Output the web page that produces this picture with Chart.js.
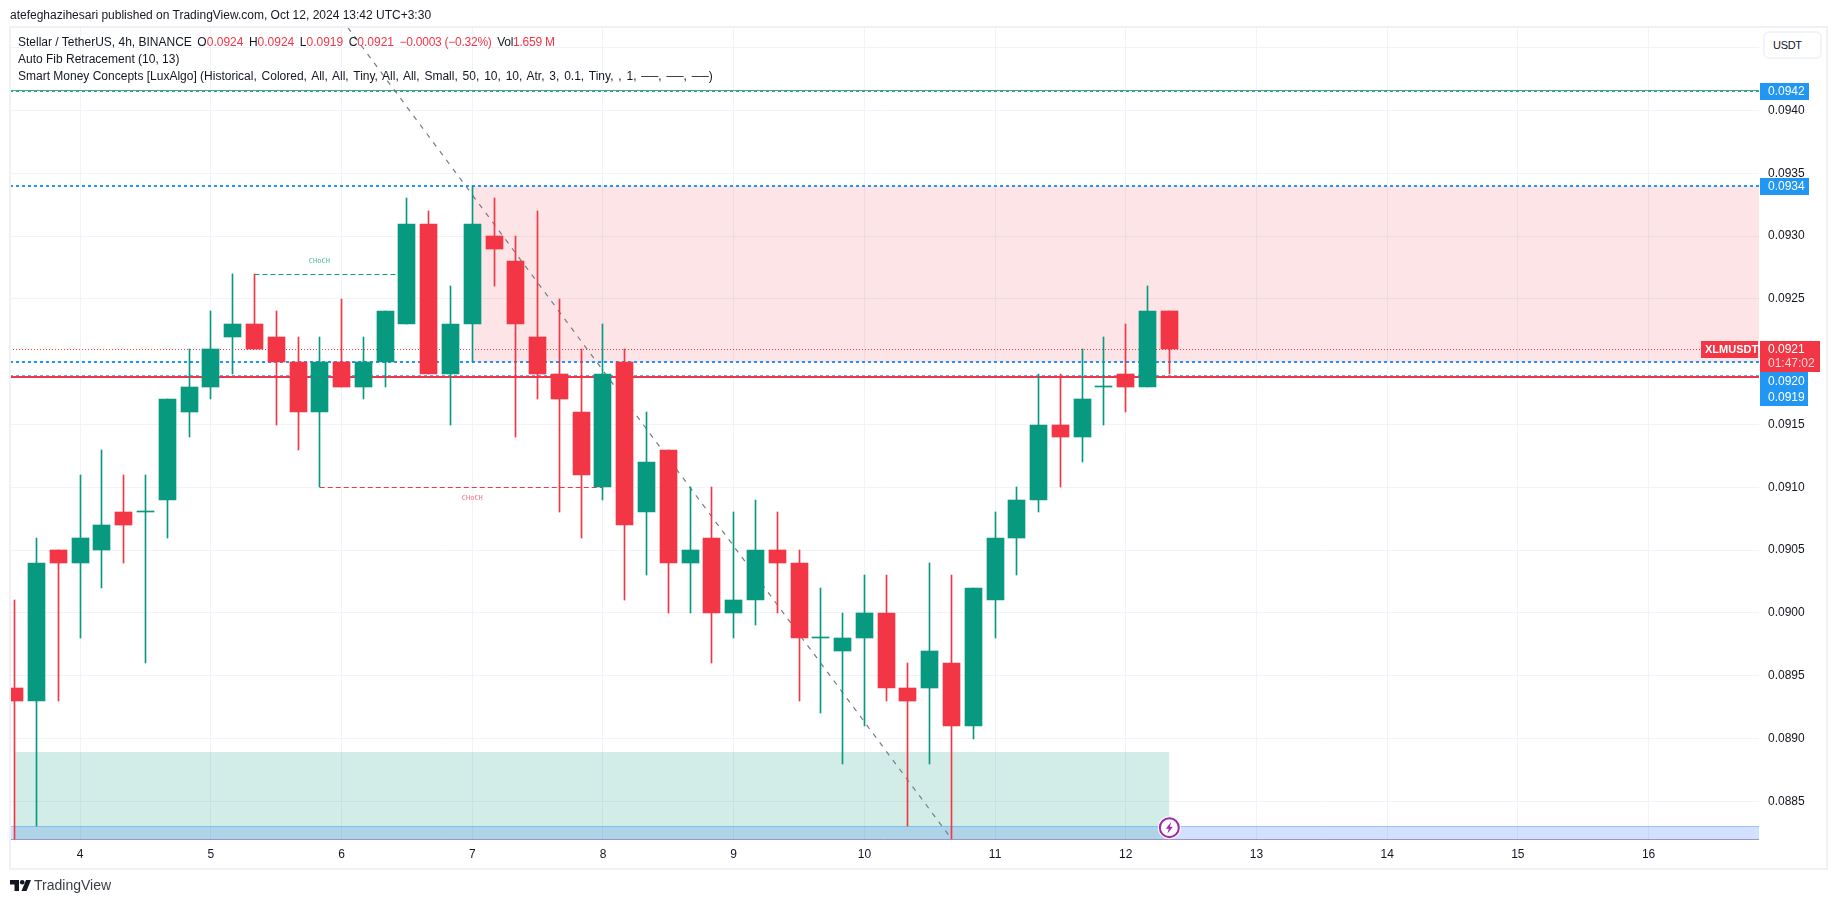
<!DOCTYPE html>
<html lang="en">
<head>
<meta charset="UTF-8">
<title>XLMUSDT 4h</title>
<script src="https://cdn.jsdelivr.net/npm/chart.js"></script>
<style>
  html, body { margin: 0; padding: 0; background: #fff; width: 1835px; height: 903px; overflow: hidden; }
  body { font-family: "Liberation Sans", Arial, sans-serif; color: #131722; position: relative; }
  canvas { position: absolute; left: 0; top: 0; }
  .frame { position: absolute; left: 9px; top: 26px; width: 1815px; height: 840px; border: 2px solid #f0f1f4; pointer-events: none; }
  .txt { position: absolute; white-space: pre; font-size: 12px; line-height: 16px; }
  .up { color: #f23645; }
  .gap { margin-left: 5.5px; }
  .tight { letter-spacing: -0.25px; }
  .usdt { position: absolute; left: 1763px; top: 31px; height: 24px; border: 2px solid #f0f3fa; border-radius: 6px; background: #fff;
          font-size: 11px; letter-spacing: -0.3px; line-height: 24px; padding-left: 8px; width: 47px; }
  .brand { position: absolute; left: 34px; top: 877px; font-size: 14px; line-height: 16px; color: #3a3d45; }
  .logo { position: absolute; left: 10px; top: 880px; }
</style>
</head>
<body>
<canvas id="chart" width="1835" height="903"></canvas>
<div class="frame"></div>
<div class="txt" style="left:10px;top:7px">atefeghazihesari published on TradingView.com, Oct 12, 2024 13:42 UTC+3:30</div>
<div class="txt" style="left:18px;top:34px">Stellar / TetherUS, 4h, BINANCE<span class="gap">O</span><span class="up">0.0924</span><span class="gap">H</span><span class="up">0.0924</span><span class="gap">L</span><span class="up">0.0919</span><span class="gap">C</span><span class="up">0.0921</span><span class="up gap tight">−0.0003 (−0.32%)</span><span class="gap tight">Vol</span><span class="up tight">1.659 M</span></div>
<div class="txt" style="left:18px;top:51px">Auto Fib Retracement (10, 13)</div>
<div class="txt" style="left:18px;top:68px">Smart Money Concepts [LuxAlgo] <span style="word-spacing:1.5px">(Historical, Colored, All, All, Tiny, All, All, Small, 50, 10, 10, Atr, 3, 0.1, Tiny, , 1, ──, ──, ──)</span></div>
<div class="usdt">USDT</div>
<svg class="logo" width="21" height="11" viewBox="0 0 21 11"><path d="M0 0h9v11H4.5V4.5H0z" fill="#131722"/><circle cx="12.2" cy="2.3" r="2.3" fill="#131722"/><path d="M16 0h5l-4.5 11h-5z" fill="#131722"/></svg>
<div class="brand">TradingView</div>

<script>
// day-of-month position of the first candle, one candle is 4 hours
const firstCandleDay = 3.5;
const candleStep = 1 / 6;

const opens = [0.0894, 0.0893, 0.0905, 0.0904, 0.0905, 0.0908, 0.0908, 0.0909, 0.0916, 0.0918,
  0.0922, 0.0923, 0.0922, 0.0920, 0.0916, 0.0920, 0.0918, 0.0920, 0.0923, 0.0931,
  0.0919, 0.0923, 0.0930, 0.0928, 0.0922, 0.0919, 0.0916, 0.0910, 0.0920, 0.0908,
  0.0913, 0.0904, 0.0906, 0.0900, 0.0901, 0.0905, 0.0904, 0.0898, 0.0897, 0.0898,
  0.0900, 0.0894, 0.0894, 0.0896, 0.0891, 0.0901, 0.0906, 0.0909, 0.0915, 0.0914,
  0.0918, 0.0919, 0.0918, 0.0924];
const highs = [0.0901, 0.0906, 0.0905, 0.0911, 0.0913, 0.0911, 0.0911, 0.0917, 0.0921, 0.0924,
  0.0927, 0.0927, 0.0924, 0.0922, 0.0922, 0.0925, 0.0922, 0.0924, 0.0933, 0.0932,
  0.0926, 0.0934, 0.0933, 0.0930, 0.0932, 0.0925, 0.0921, 0.0923, 0.0921, 0.0916,
  0.0913, 0.0910, 0.0910, 0.0908, 0.0909, 0.0908, 0.0905, 0.0902, 0.0900, 0.0903,
  0.0903, 0.0896, 0.0904, 0.0903, 0.0902, 0.0908, 0.0910, 0.0919, 0.0919, 0.0921,
  0.0922, 0.0923, 0.0926, 0.0924];
const lows = [0.0882, 0.0883, 0.0893, 0.0898, 0.0902, 0.0904, 0.0896, 0.0906, 0.0914, 0.0917,
  0.0919, 0.0921, 0.0915, 0.0913, 0.0910, 0.0918, 0.0917, 0.0918, 0.0923, 0.0919,
  0.0915, 0.0920, 0.0926, 0.0914, 0.0917, 0.0908, 0.0906, 0.0909, 0.0901, 0.0903,
  0.0900, 0.0900, 0.0896, 0.0898, 0.0899, 0.0900, 0.0893, 0.0892, 0.0888, 0.0891,
  0.0893, 0.0883, 0.0888, 0.0882, 0.0890, 0.0898, 0.0903, 0.0908, 0.0910, 0.0912,
  0.0915, 0.0916, 0.0918, 0.0919];
const closes = [0.0893, 0.0904, 0.0904, 0.0906, 0.0907, 0.0907, 0.0908, 0.0917, 0.0918, 0.0921,
  0.0923, 0.0921, 0.0920, 0.0916, 0.0920, 0.0918, 0.0920, 0.0924, 0.0931, 0.0919,
  0.0923, 0.0931, 0.0929, 0.0923, 0.0919, 0.0917, 0.0911, 0.0919, 0.0907, 0.0912,
  0.0904, 0.0905, 0.0900, 0.0901, 0.0905, 0.0904, 0.0898, 0.0898, 0.0898, 0.0900,
  0.0894, 0.0893, 0.0897, 0.0891, 0.0902, 0.0906, 0.0909, 0.0915, 0.0914, 0.0917,
  0.0918, 0.0918, 0.0924, 0.0921];

const dayTicks = [4, 5, 6, 7, 8, 9, 10, 11, 12, 13, 14, 15, 16];
const priceTicks = [0.0945, 0.0940, 0.0935, 0.0930, 0.0925, 0.0920, 0.0915, 0.0910, 0.0905,
  0.0900, 0.0895, 0.0890, 0.0885];
const hiddenPriceLabels = ['0.0945', '0.0920']; // covered by the USDT button and the tags

const dayMin = 3.4629, dayMax = 16.845;
const priceMin = 0.088192, priceMax = 0.0946648;

// horizontal levels
const fibHigh = 0.094155, fibMid = 0.0934, fibLow1 = 0.0920, fibLow2 = 0.091895, redLine = 0.09188;
const lastPrice = 0.0921;
// zones: [fromDay, toDay, top, bottom]
const supplyZone = [7, dayMax, 0.0934, 0.0920];
const demandZone = [3.5, 12.333, 0.08889, 0.0882];
const bottomZone = [dayMin, dayMax, 0.0883, 0.0882];
// CHoCH segments: [fromDay, toDay, price]
const chochUp = [5.333, 6.5, 0.0927];
const chochDown = [5.833, 8, 0.0910];
const chochLabelDays = [5.83, 7];
const chochLabelPrices = [0.0928, 0.09091];
// the dashed trend line of the auto fib
const trendDays = [6.048, 10.667];
const trendPrices = [0.09466, 0.0882];

const GREEN = '#089981', RED = '#f23645', BLUE = '#2196f3';

const candleDays = opens.map((_, i) => firstCandleDay + i * candleStep);
const isUp = opens.map((o, i) => closes[i] >= o);
const candleColors = isUp.map(u => u ? GREEN : RED);

function level (y, color, width, dash, from = dayMin, to = dayMax) {
  return {
    type: 'line', order: 5, snap: true,
    data: [{ x: from, y }, { x: to, y }],
    borderColor: color, borderWidth: width, borderDash: dash || [], pointRadius: 0, fill: false
  };
}

function zone (z, color) {
  return {
    type: 'line', order: 10, snap: true,
    data: [{ x: z[0], y: z[2] }, { x: z[1], y: z[2] }],
    borderWidth: 0, pointRadius: 0, backgroundColor: color, fill: { value: z[3] }
  };
}

// snap bars and level lines to whole pixels, Tradingview draws them crisp
const pixelSnap = {
  id: 'pixelSnap',
  afterDatasetsUpdate (chart) {
    chart.data.datasets.forEach((ds, i) => {
      const meta = chart.getDatasetMeta(i);
      if (ds.type === 'bar') {
        meta.data.forEach(el => {
          el.x = Math.floor(el.x) + 0.5;
          el.y = Math.round(el.y);
          el.base = Math.round(el.base);
          if (el.base - el.y < 1) el.base = el.y + 1;
        });
      } else if (ds.snap) {
        const off = ds.borderWidth % 2 ? 0.5 : 0;
        meta.data.forEach(el => { el.y = Math.round(el.y) + off; });
      }
    });
  }
};

// price tags, CHoCH labels and the alert icon, placed through the scales
const overlay = {
  id: 'overlay',
  afterDraw (chart) {
    const { ctx, scales: { x, y }, chartArea } = chart;
    const left = chartArea.right + 1;
    ctx.save();

    ctx.font = '7px "DejaVu Sans Mono", monospace';
    ctx.textAlign = 'center';
    ctx.textBaseline = 'middle';
    ctx.fillStyle = 'rgba(8,153,129,.7)';
    ctx.fillText('CHoCH', x.getPixelForValue(chochLabelDays[0]), y.getPixelForValue(chochLabelPrices[0]));
    ctx.fillStyle = 'rgba(242,54,69,.7)';
    ctx.fillText('CHoCH', x.getPixelForValue(chochLabelDays[1]), y.getPixelForValue(chochLabelPrices[1]));

    ctx.textAlign = 'left';
    ctx.font = '12px "Liberation Sans", Arial, sans-serif';
    const tag = (top, h, w, color, rows) => {
      ctx.fillStyle = color;
      ctx.fillRect(left, top, w, h);
      rows.forEach(r => {
        ctx.fillStyle = r[1];
        ctx.fillText(r[0], left + 8, top + r[2]);
      });
    };
    const topOf = p => Math.round(y.getPixelForValue(p) - 8);
    tag(topOf(fibHigh), 17, 49, BLUE, [['0.0942', '#fff', 9]]);
    tag(topOf(fibMid), 17, 49, BLUE, [['0.0934', '#fff', 9]]);
    // the two close levels share one tag under the last price
    tag(topOf(lastPrice) + 31, 34, 48, BLUE, [['0.0920', '#fff', 10], ['0.0919', '#fff', 26]]);
    tag(topOf(lastPrice), 31, 60, RED, [['0.0921', '#fff', 9], ['01:47:02', '#fbd5d8', 23]]);

    const lastTop = topOf(lastPrice);
    ctx.fillStyle = RED;
    ctx.fillRect(chartArea.right - 58, lastTop, 57, 17);
    ctx.fillStyle = '#fff';
    ctx.font = 'bold 11px "Liberation Sans", Arial, sans-serif';
    ctx.fillText('XLMUSDT', chartArea.right - 54, lastTop + 9);

    // alert bolt on the last candle
    const bx = x.getPixelForValue(candleDays[candleDays.length - 1]);
    const by = y.getPixelForValue(0.08829);
    ctx.beginPath();
    ctx.arc(bx, by, 11.5, 0, Math.PI * 2);
    ctx.fillStyle = '#fff';
    ctx.fill();
    ctx.beginPath();
    ctx.arc(bx, by, 9.5, 0, Math.PI * 2);
    ctx.lineWidth = 2;
    ctx.strokeStyle = '#9c27b0';
    ctx.stroke();
    ctx.beginPath();
    ctx.moveTo(bx + 2, by - 6);
    ctx.lineTo(bx - 3.5, by + 1);
    ctx.lineTo(bx - 0.5, by + 1);
    ctx.lineTo(bx - 2, by + 6);
    ctx.lineTo(bx + 3.5, by - 1);
    ctx.lineTo(bx + 0.5, by - 1);
    ctx.closePath();
    ctx.fillStyle = '#9c27b0';
    ctx.fill();
    ctx.restore();
  }
};

new Chart(document.getElementById('chart').getContext('2d'), {
  type: 'bar',
  data: {
    datasets: [
      // candle bodies
      {
        type: 'bar', order: 1, grouped: false, barThickness: 17, minBarLength: 1,
        data: candleDays.map((d, i) => ({ x: d, y: [Math.min(opens[i], closes[i]), Math.max(opens[i], closes[i])] })),
        backgroundColor: candleColors
      },
      // wicks
      {
        type: 'bar', order: 2, grouped: false, barThickness: 1,
        data: candleDays.map((d, i) => ({ x: d, y: [lows[i], highs[i]] })),
        backgroundColor: candleColors
      },
      // levels
      level(lastPrice, RED, 1, [1, 2]),
      level(fibLow2, 'rgba(33,150,243,.75)', 1, [3, 3]),
      level(redLine, RED, 2),
      level(fibLow1, BLUE, 2, [3, 3]),
      level(fibMid, BLUE, 2, [3, 3]),
      level(fibHigh, BLUE, 1, [3, 3]),
      level(fibHigh + 0.00001, '#4caf50', 1),
      level(bottomZone[2], 'rgba(33,150,243,.35)', 1),
      level(bottomZone[3], 'rgba(76,60,160,.55)', 1),
      level(chochUp[2], GREEN, 1, [5, 3], chochUp[0], chochUp[1]),
      level(chochDown[2], RED, 1, [5, 3], chochDown[0], chochDown[1]),
      {
        type: 'line', order: 4,
        data: trendDays.map((d, i) => ({ x: d, y: trendPrices[i] })),
        borderColor: '#787b86', borderWidth: 1.2, borderDash: [5, 6], pointRadius: 0, fill: false
      },
      // zones
      zone(supplyZone, 'rgba(242,54,69,.13)'),
      zone(demandZone, 'rgba(8,153,129,.18)'),
      zone(bottomZone, 'rgba(41,98,255,.2)')
    ]
  },
  options: {
    responsive: false,
    animation: false,
    layout: { padding: { left: 10, top: 27 } },
    plugins: { legend: { display: false }, tooltip: { enabled: false } },
    scales: {
      x: {
        type: 'linear', min: dayMin, max: dayMax, offset: false,
        afterBuildTicks (scale) { scale.ticks = dayTicks.map(value => ({ value })); },
        afterFit (scale) { scale.height = 63; },
        grid: { color: '#f0f3fa', drawTicks: false, offset: false },
        border: { display: false },
        ticks: {
          autoSkip: false, maxRotation: 0, padding: 7, color: '#131722',
          font: { family: '"Liberation Sans", Arial, sans-serif', size: 12 },
          callback: v => String(v)
        }
      },
      y: {
        type: 'linear', position: 'right', min: priceMin, max: priceMax,
        afterBuildTicks (scale) { scale.ticks = priceTicks.map(value => ({ value })); },
        afterFit (scale) { scale.width = 76; },
        grid: { color: '#f0f3fa', drawTicks: false },
        border: { display: false },
        ticks: {
          autoSkip: false, padding: 9, crossAlign: 'near', color: '#131722',
          font: { family: '"Liberation Sans", Arial, sans-serif', size: 12 },
          callback: v => (hiddenPriceLabels.includes(v.toFixed(4)) ? '' : v.toFixed(4))
        }
      }
    }
  },
  plugins: [pixelSnap, overlay]
});
</script>
</body>
</html>
